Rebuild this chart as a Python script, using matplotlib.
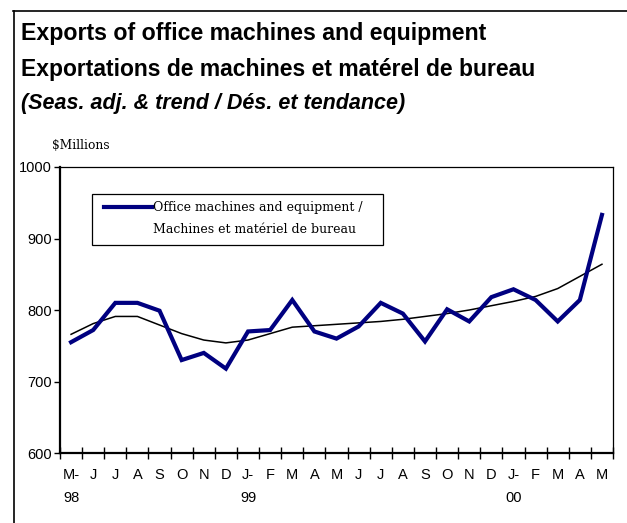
import matplotlib.pyplot as plt
from matplotlib.lines import Line2D
from matplotlib.patches import Rectangle

# months May 1998 .. May 2000
month_labels = ["M-\n98", "J", "J", "A", "S", "O", "N", "D", "J-\n99", "F", "M", "A",
                "M", "J", "J", "A", "S", "O", "N", "D", "J-\n00", "F", "M", "A", "M"]
exports = [755, 772, 810, 810, 799, 730, 740, 718, 770, 772, 814, 770,
           760, 777, 810, 795, 756, 801, 784, 818, 829, 814, 784, 814, 933]
trend = [766, 781, 791, 791, 779, 767, 758, 754, 758, 767, 776, 778,
         780, 782, 784, 787, 791, 795, 800, 806, 812, 819, 830, 847, 864]
y_ticks = [600, 700, 800, 900, 1000]

tick_font = "Liberation Sans"
serif_font = "DejaVu Serif"

fig = plt.figure(figsize=(6.27, 5.23), dpi=100)
ax = fig.add_axes([0.0957, 0.1338, 0.882, 0.5469])

x = list(range(len(exports)))
ax.plot(x, trend, color="black", lw=1.1, zorder=2)
ax.plot(x, exports, color="#000080", lw=3.0, solid_joinstyle="miter", zorder=3)

ax.set_xlim(-0.5, len(exports) - 0.5)
ax.set_ylim(600, 1000)
ax.set_yticks(y_ticks)
ax.set_yticklabels([str(v) for v in y_ticks], fontfamily=tick_font, fontsize=10.5)

# boundary ticks crossing the axis, labels centred on months
ax.set_xticks([i - 0.5 for i in range(len(exports) + 1)])
ax.set_xticklabels([])
ax.set_xticks(x, minor=True)
ax.set_xticklabels(month_labels, minor=True, fontfamily=tick_font, fontsize=10.5,
                   linespacing=1.75, va="top")
ax.tick_params(axis="x", which="major", direction="inout", length=9, width=1)
ax.tick_params(axis="x", which="minor", length=0, pad=11)
ax.tick_params(axis="y", direction="out", length=4, width=1, pad=2)

for s in ["left", "bottom"]:
    ax.spines[s].set_linewidth(1.6)
for s in ["right", "top"]:
    ax.spines[s].set_linewidth(0.9)

# legend box
ax.add_patch(Rectangle((0.058, 0.727), 0.526, 0.179, transform=ax.transAxes,
                       facecolor="white", edgecolor="black", lw=0.9, zorder=4))
ax.add_line(Line2D([0.0796, 0.167], [0.860, 0.860], transform=ax.transAxes,
                   color="#000080", lw=3.0, zorder=5))
ax.text(0.168, 0.860, "Office machines and equipment /", transform=ax.transAxes,
        fontfamily=serif_font, fontsize=9, va="center", ha="left", zorder=5)
ax.text(0.168, 0.783, "Machines et matériel de bureau", transform=ax.transAxes,
        fontfamily=serif_font, fontsize=9, va="center", ha="left", zorder=5)

# titles
fig.text(0.034, 0.935, "Exports of office machines and equipment",
         fontfamily="Liberation Sans", fontweight="bold", fontsize=16.7, va="center")
fig.text(0.034, 0.868, "Exportations de machines et matérel de bureau",
         fontfamily="Liberation Sans", fontweight="bold", fontsize=16.5, va="center")
fig.text(0.034, 0.803, "(Seas. adj. & trend / Dés. et tendance)",
         fontfamily="Liberation Sans", fontweight="bold", style="italic",
         fontsize=15.5, va="center")
fig.text(0.083, 0.721, "$Millions", fontfamily=serif_font, fontsize=8.8, va="center")

# outer frame (top and left only)
fig.add_artist(Line2D([0.021, 1.0], [0.979, 0.979], transform=fig.transFigure,
                      color="black", lw=1.2))
fig.add_artist(Line2D([0.022, 0.022], [0.0, 0.979], transform=fig.transFigure,
                      color="black", lw=1.2))

fig.savefig("out.png", dpi=100)
